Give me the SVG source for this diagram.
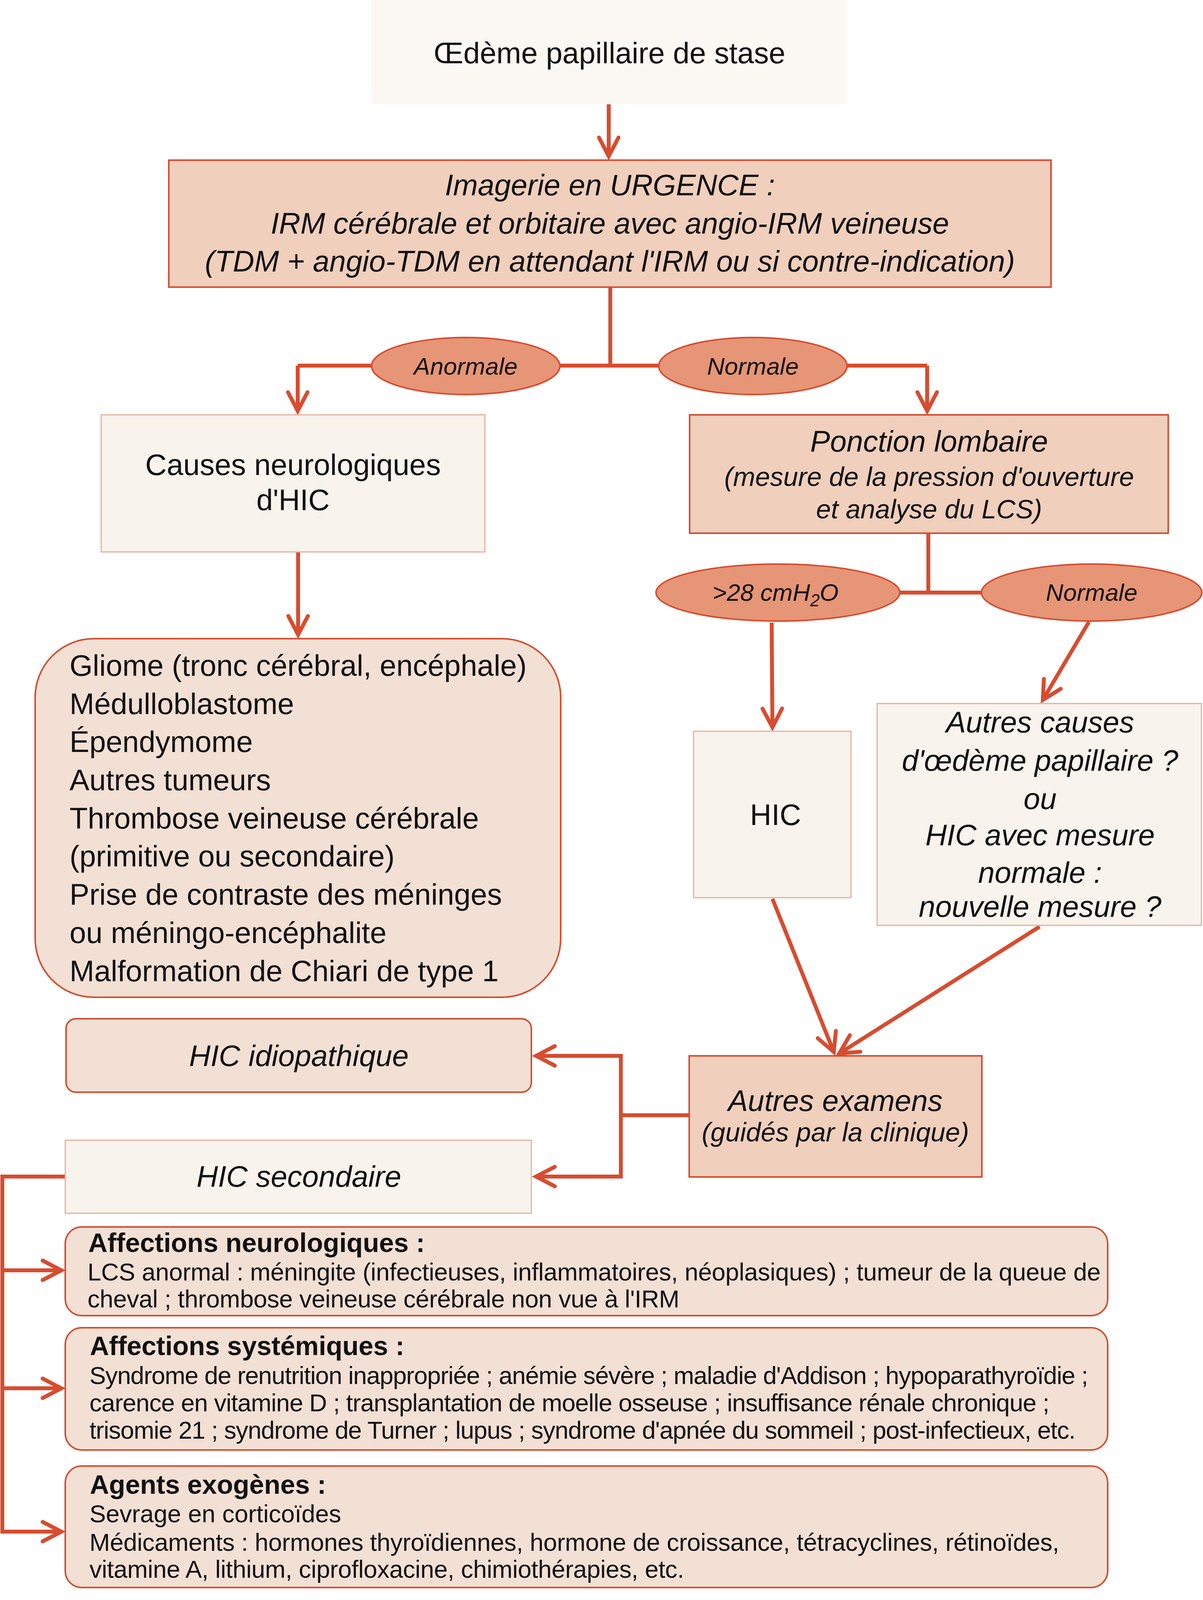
<svg xmlns="http://www.w3.org/2000/svg" width="3079" height="4199" viewBox="0 0 3079 4199">
<style>
text{font-family:"Liberation Sans",Arial,Helvetica,sans-serif;fill:#111;}
.it{font-style:italic;}
.c{text-anchor:middle;}
.b76{font-size:76px;}
.s68{font-size:68px;}
.s63{font-size:63px;}
.h{font-size:68px;font-weight:bold;}
.lbl{font-size:62px;font-style:italic;text-anchor:middle;}
.dark{fill:#f0cfbc;stroke:#d84c2f;stroke-width:4;}
.light{fill:#f8f3ed;stroke:#e9af95;stroke-width:3;}
.soft{fill:#f3e0d4;stroke:#d84c2f;stroke-width:4;}
.ell{fill:#e69576;stroke:#d84c2f;stroke-width:4;}
.con{fill:none;stroke:#d84c2f;stroke-width:10;}
.arr{marker-end:url(#ah);}
</style>
<defs>
<marker id="ah" markerUnits="userSpaceOnUse" viewBox="-70 -40 90 80" markerWidth="90" markerHeight="80" refX="0" refY="0" orient="auto">
<path d="M-48 -25 L0 0 L-48 25" fill="none" stroke="#d84c2f" stroke-width="10" stroke-linecap="round" stroke-linejoin="miter"/>
</marker>
</defs>
<rect width="3079" height="4199" fill="#ffffff"/>

<g id="connectors">
<path class="con arr" d="M1558 267 V400"/>
<path class="con" d="M1562 735 V936"/>
<path class="con" d="M762 936 H2373"/>
<path class="con arr" d="M762 936 V1052"/>
<path class="con arr" d="M2373 936 V1052"/>
<path class="con arr" d="M763 1413 V1625"/>
<path class="con" d="M2376 1365 V1517"/>
<path class="con" d="M1991 1517 H2794"/>
<path class="con arr" d="M1975 1594 L1977 1862"/>
<path class="con arr" d="M2787 1592 L2669 1792"/>
<path class="con arr" d="M1977 2301 L2134 2693"/>
<path class="con arr" d="M2661 2372 L2148 2697"/>
<path class="con" d="M1764 2855 H1589"/>
<path class="con" d="M1589 2698 V3017"/>
<path class="con arr" d="M1594 2703 H1372"/>
<path class="con arr" d="M1594 3012 H1372"/>
<path class="con" d="M167 3012 H6 V3926"/>
<path class="con arr" d="M6 3252 H157"/>
<path class="con arr" d="M6 3554 H157"/>
<path class="con arr" d="M6 3921 H157"/>
</g>

<g id="n-oedeme">
<rect x="951" y="0" width="1217" height="267" fill="#fbf8f3"/>
<text class="b76 c" x="1560" y="162">Œdème papillaire de stase</text>
</g>

<g id="n-imagerie">
<rect class="dark" x="432" y="410" width="2258" height="325"/>
<text class="b76 c it" x="1561" y="500">Imagerie en URGENCE :</text>
<text class="b76 c it" x="1561" y="598">IRM cérébrale et orbitaire avec angio-IRM veineuse</text>
<text class="b76 c it" x="1561" y="695">(TDM + angio-TDM en attendant l'IRM ou si contre-indication)</text>
</g>

<g id="n-anormale">
<ellipse class="ell" cx="1192" cy="937" rx="241" ry="73"/>
<text class="lbl" x="1192" y="959">Anormale</text>
</g>

<g id="n-normale1">
<ellipse class="ell" cx="1927" cy="937" rx="241" ry="73"/>
<text class="lbl" x="1927" y="959">Normale</text>
</g>

<g id="n-causes">
<rect class="light" x="259" y="1062" width="982" height="351"/>
<text class="b76 c" x="750" y="1216">Causes neurologiques</text>
<text class="b76 c" x="750" y="1306">d'HIC</text>
</g>

<g id="n-liste">
<rect class="soft" x="90" y="1635" width="1345" height="918" rx="150" ry="150"/>
<text class="b76" x="178" y="1730">Gliome (tronc cérébral, encéphale)</text>
<text class="b76" x="178" y="1828">Médulloblastome</text>
<text class="b76" x="178" y="1925">Épendymome</text>
<text class="b76" x="178" y="2023">Autres tumeurs</text>
<text class="b76" x="178" y="2121">Thrombose veineuse cérébrale</text>
<text class="b76" x="178" y="2218">(primitive ou secondaire)</text>
<text class="b76" x="178" y="2316">Prise de contraste des méninges</text>
<text class="b76" x="178" y="2414">ou méningo-encéphalite</text>
<text class="b76" x="178" y="2512">Malformation de Chiari de type 1</text>
</g>

<g id="n-ponction">
<rect class="dark" x="1765" y="1062" width="1225" height="303"/>
<text class="b76 c it" x="2378" y="1156">Ponction lombaire</text>
<text class="s68 c it" x="2378" y="1244">(mesure de la pression d'ouverture</text>
<text class="s68 c it" x="2378" y="1327">et analyse du LCS)</text>
</g>

<g id="n-sup28">
<ellipse class="ell" cx="1991" cy="1517" rx="312" ry="73"/>
<text class="lbl" x="1985" y="1538">&gt;28 cmH<tspan font-size="44" dy="14">2</tspan><tspan dy="-14">O</tspan></text>
</g>

<g id="n-normale2">
<ellipse class="ell" cx="2794" cy="1517" rx="282" ry="73"/>
<text class="lbl" x="2794" y="1538">Normale</text>
</g>

<g id="n-hic">
<rect class="light" x="1775" y="1872" width="403" height="426"/>
<text class="b76 c" x="1985" y="2112">HIC</text>
</g>

<g id="n-autres-causes">
<rect class="light" x="2245" y="1801" width="830" height="568"/>
<text class="b76 c it" x="2662" y="1875">Autres causes</text>
<text class="b76 c it" x="2662" y="1973">d'œdème papillaire ?</text>
<text class="b76 c it" x="2662" y="2071">ou</text>
<text class="b76 c it" x="2662" y="2164">HIC avec mesure</text>
<text class="b76 c it" x="2662" y="2260">normale :</text>
<text class="b76 c it" x="2662" y="2347">nouvelle mesure ?</text>
</g>

<g id="n-autres-examens">
<rect class="dark" x="1764" y="2703" width="749" height="310"/>
<text class="b76 c it" x="2138" y="2844">Autres examens</text>
<text class="s68 c it" x="2138" y="2922">(guidés par la clinique)</text>
</g>

<g id="n-hic-idio">
<rect class="soft" x="169" y="2608" width="1191" height="188" rx="25" ry="25"/>
<text class="b76 c it" x="765" y="2729">HIC idiopathique</text>
</g>

<g id="n-hic-sec">
<rect class="light" x="167" y="2919" width="1193" height="187"/>
<text class="b76 c it" x="765" y="3038">HIC secondaire</text>
</g>

<g id="n-neuro">
<rect class="soft" x="167" y="3141" width="2668" height="227" rx="42" ry="42"/>
<text class="h" x="226" y="3205">Affections neurologiques :</text>
<text class="s63" x="224" y="3278" textLength="2593">LCS anormal : méningite (infectieuses, inflammatoires, néoplasiques) ; tumeur de la queue de</text>
<text class="s63" x="224" y="3347" textLength="1515">cheval ; thrombose veineuse cérébrale non vue à l'IRM</text>
</g>

<g id="n-systemiques">
<rect class="soft" x="167" y="3399" width="2668" height="313" rx="42" ry="42"/>
<text class="h" x="230" y="3469">Affections systémiques :</text>
<text class="s63" x="229" y="3543" textLength="2556">Syndrome de renutrition inappropriée ; anémie sévère ; maladie d'Addison ; hypoparathyroïdie ;</text>
<text class="s63" x="229" y="3613" textLength="2457">carence en vitamine D ; transplantation de moelle osseuse ; insuffisance rénale chronique ;</text>
<text class="s63" x="229" y="3683" textLength="2524">trisomie 21 ; syndrome de Turner ; lupus ; syndrome d'apnée du sommeil ; post-infectieux, etc.</text>
</g>

<g id="n-agents">
<rect class="soft" x="167" y="3753" width="2668" height="311" rx="42" ry="42"/>
<text class="h" x="230" y="3824">Agents exogènes :</text>
<text class="s63" x="229" y="3897">Sevrage en corticoïdes</text>
<text class="s63" x="229" y="3970" textLength="2482">Médicaments : hormones thyroïdiennes, hormone de croissance, tétracyclines, rétinoïdes,</text>
<text class="s63" x="229" y="4039" textLength="1522">vitamine A, lithium, ciprofloxacine, chimiothérapies, etc.</text>
</g>
</svg>
